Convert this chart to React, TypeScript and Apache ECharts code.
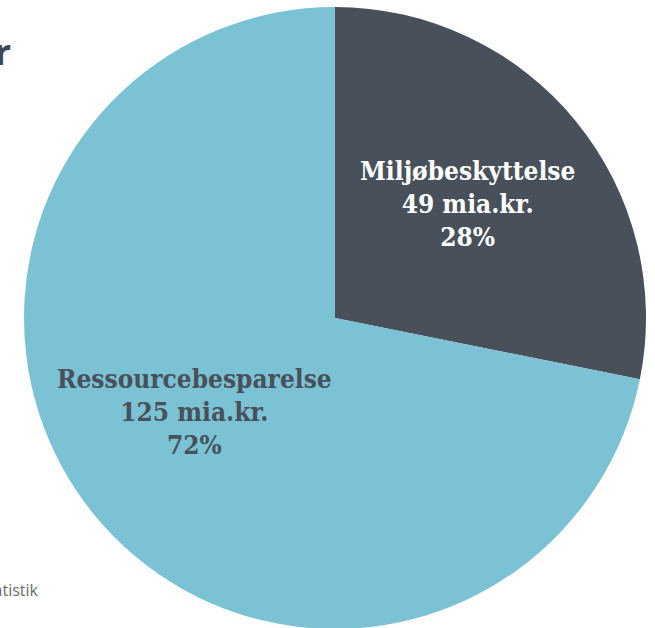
import React, { useEffect, useRef } from "react";
import * as echarts from "echarts";

const categories = ["Miljøbeskyttelse", "Ressourcebesparelse"];
const values = [49, 125];
const percents = ["28%", "72%"];
const unit = "mia.kr.";
const titleText = "Grønne varer og tjenester";
const sourceText = "Kilde: Danmarks Statistik";

export default function App() {
  const ref = useRef<HTMLDivElement>(null);
  useEffect(() => {
    document.body.style.margin = "0";
    const chart = echarts.init(ref.current!, null, { renderer: "svg" });
    const colors = ["#48515b", "#7bc2d4"];
    const labelColors = ["#ffffff", "#48515b"];
    chart.setOption({
      animation: false,
      graphic: [
        {
          type: "text",
          right: 644,
          top: 33,
          style: {
            text: titleText,
            font: "bold 36px 'Open Sans', sans-serif",
            fill: "#3e4852",
          },
        },
        {
          type: "text",
          right: 617,
          top: 582,
          style: {
            text: sourceText,
            font: "16px 'Open Sans', sans-serif",
            fill: "#6b6b6b",
          },
        },
      ],
      series: [
        {
          type: "pie",
          center: [335, 318],
          radius: [0, 311],
          startAngle: 90,
          clockwise: true,
          silent: true,
          labelLine: { show: false },
          data: categories.map((c, i) => ({
            name: c,
            value: values[i],
            itemStyle: { color: colors[i] },
            label: {
              show: true,
              position: "inside",
              formatter: `${c}\n${values[i]} ${unit}\n${percents[i]}`,
              color: labelColors[i],
              fontFamily: "'DejaVu Serif Condensed', 'DejaVu Serif', serif",
              fontWeight: "bold",
              fontSize: 26,
              lineHeight: 33,
              align: "center",
              offset: i === 0 ? [10, -14] : [-18, -6],
            },
          })),
        },
      ],
    });
    return () => chart.dispose();
  }, []);
  return <div ref={ref} style={{ width: 655, height: 628 }} />;
}
